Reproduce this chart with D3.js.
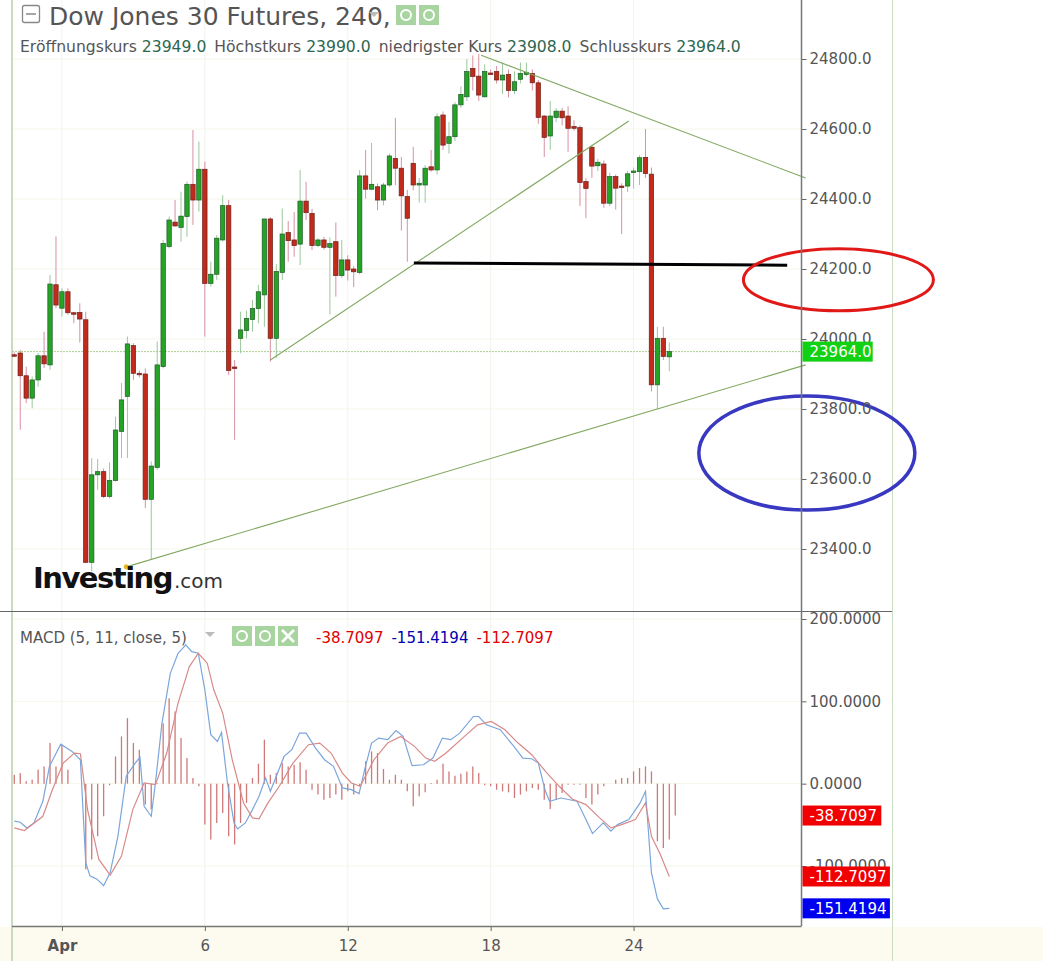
<!DOCTYPE html>
<html><head><meta charset="utf-8">
<script src="https://cdn.jsdelivr.net/npm/d3@7"></script>
<style>body{margin:0;background:#fff}svg{display:block}text{font-family:"DejaVu Sans",sans-serif}</style>
</head><body>
<svg id="c" width="1043" height="961"></svg>
<script>
// OHLC per 4h bar
const opens=[23955,23960,23895,23831,23883,23952,23926,24155,24088,24135,24075,24076,24055,23362,23612,23621,23550,23596,23736,23836,23981,23902,23900,23542,23633,23921,24264,24334,24319,24350,24442,24397,24485,24159,24185,24283,24381,23920,24002,24024,24056,24087,24126,24343,24002,24190,24304,24283,24271,24394,24359,24267,24283,24262,24278,24181,24226,24200,24190,24466,24428,24435,24397,24440,24516,24488,24407,24502,24440,24440,24492,24483,24640,24559,24578,24669,24692,24773,24751,24692,24760,24764,24740,24756,24710,24742,24756,24759,24732,24637,24580,24633,24651,24637,24607,24604,24450,24548,24495,24500,24388,24464,24437,24437,24478,24478,24519,24471,23869,24002,23949];
const highs=[23962,23969,23921,23893,23960,24021,24183,24293,24145,24145,24078,24102,24078,23660,23657,23630,23647,23778,23874,24007,23988,23910,23916,23650,23993,24283,24350,24397,24421,24450,24597,24564,24507,24221,24297,24411,24397,23940,24078,24081,24112,24155,24343,24348,24214,24373,24337,24363,24483,24449,24372,24288,24292,24290,24333,24283,24239,24208,24483,24540,24560,24444,24446,24530,24632,24520,24426,24549,24460,24497,24540,24645,24650,24620,24677,24722,24800,24810,24815,24785,24770,24780,24790,24770,24765,24790,24790,24770,24740,24640,24680,24660,24660,24665,24625,24610,24460,24555,24515,24510,24475,24470,24445,24480,24490,24525,24600,24490,24035,24035,23990];
const lows=[23948,23741,23817,23802,23864,23917,23912,24088,24064,24069,24045,23990,23360,23336,23569,23545,23545,23593,23660,23660,23883,23890,23517,23369,23626,23916,24259,24321,24278,24292,24326,24364,24007,24150,24169,24278,23897,23712,23959,24002,24021,24045,24035,23935,23945,24168,24221,24235,24211,24340,24254,24262,24255,24070,24121,24174,24167,24148,24185,24401,24425,24368,24382,24435,24440,24310,24221,24425,24390,24390,24478,24470,24540,24530,24565,24660,24680,24710,24680,24690,24755,24730,24700,24690,24700,24730,24750,24710,24615,24520,24540,24620,24610,24535,24595,24380,24345,24460,24480,24375,24380,24370,24300,24420,24430,24440,24460,23850,23800,23940,23908];
const closes=[23954,23895,23831,23883,23952,23929,24157,24097,24135,24075,24074,24057,23362,23612,23621,23550,23596,23740,23826,23986,23902,23900,23542,23637,23926,24273,24340,24323,24351,24442,24397,24485,24159,24185,24288,24381,23910,23918,24026,24059,24087,24135,24343,24002,24193,24300,24281,24267,24394,24361,24267,24283,24262,24273,24181,24226,24197,24192,24466,24428,24442,24397,24440,24523,24488,24409,24345,24440,24445,24488,24483,24635,24554,24578,24669,24699,24764,24750,24697,24764,24758,24740,24754,24710,24735,24759,24762,24732,24633,24576,24637,24651,24632,24602,24602,24447,24430,24494,24505,24388,24464,24431,24435,24472,24480,24518,24473,23869,24002,23950,23964];
// MACD histogram per bar
const histogram=[10.9,13,2.8,4.9,17,21,49.3,21,47.3,17,0,0,-104,-92,-64,-39.6,-2,33.1,57.4,79.6,49.3,41.2,-25.4,-31.5,0.8,73.5,103.8,87.7,55.4,31.1,6.9,-3,-49.7,-67.9,-47.7,-35.5,-64,-73.9,-47.7,-23.4,6.9,24.2,53.4,10.9,13,25.1,21,23,25.9,17,-7.3,-13.3,-19.4,-17.4,-13.3,-19.4,-9.3,-13.3,-3.2,27.1,39.2,37.2,17.8,4.9,10.9,4.9,-9.3,-27.5,-15.3,-10.5,0.8,4.9,24.2,14.9,9.7,12.1,14.9,21,13,-2,-3.2,-7.3,-9.3,-10.5,-17.4,-13.3,-9.3,-5.2,-7.3,-19.4,-30.7,-19.4,-11.3,-1.2,-1.2,-1.2,-17.4,-25.4,-13.3,-3.2,0,4.9,6.9,6.9,14.9,19,21,14.9,-70,-78,-67.9,-38.7];
// MACD line [bar, value]
const macdLine=[[1,-45.6],[2,-46.8],[3.1,-53.7],[4.3,-47.7],[5.8,-21.4],[6.9,21],[8.8,48],[10.7,39.2],[12.1,29.1],[13,-96],[13.7,-112],[14.9,-116],[16,-124],[17.1,-108],[18.4,-64],[19.8,9],[21.3,25],[22.1,32],[22.8,-27.5],[24,-39.6],[24.7,0.8],[25.8,73.5],[27.2,134],[28.5,158.4],[29.8,168.5],[30.8,160.4],[31.9,158.4],[33,114],[34,59.4],[35.1,51.3],[35.8,62.2],[36.8,0.8],[37.9,-47.7],[38.5,-55],[39.8,-47.7],[41,-31.5],[42.1,-15.3],[43.2,6.9],[44,-9.3],[45.1,10.9],[46.3,33.1],[47.6,41.2],[48.9,61.4],[50,61.4],[51.6,43.2],[53.1,29.1],[54.6,21],[56.1,-5.2],[57.6,-7.3],[58.9,-12.1],[59.9,19],[61,49.3],[62.2,55.4],[63.7,53.4],[65.1,64.6],[66.3,57.4],[67.8,21.8],[69.7,23],[71.3,31.1],[72.9,55.4],[74.3,53.4],[75.8,61.4],[78.1,81.6],[79,81.6],[80.3,71.5],[82.6,65.5],[84.9,45.3],[86.4,31.1],[87.9,30.3],[89,25],[90.2,-9.3],[90.9,-21.4],[92.8,-17.4],[95.5,-21.4],[97,-43.6],[98.1,-60.6],[99.9,-47.7],[101.2,-57.8],[102.3,-49.7],[104.2,-43.6],[106.1,-23.4],[107,-9.3],[108,-108],[109,-140],[110,-152],[111,-151.4]];
const signalLine=[[1,-53.7],[2.7,-57],[5.8,-39.6],[7.3,-9.3],[9.2,25],[11.1,37.2],[12.1,36.4],[13.3,-31.5],[15.2,-92],[17.1,-111],[19,-88],[20.9,-31.5],[22.8,0.8],[24.7,-1.2],[26.6,37.2],[28.5,97.8],[30.4,142.2],[31.9,158.4],[33.4,146.3],[34.5,114],[36,85.7],[37.6,29.1],[39.5,-23.4],[41,-41.6],[42.1,-42.8],[43.6,-23.4],[45.5,-3.2],[47.8,25],[50.4,47.3],[52.3,49.3],[54.2,37.2],[56.1,12.9],[57.6,0.8],[59.1,-3.2],[61.4,29.1],[63.7,49.3],[65.9,57.4],[68.2,45.3],[70.1,31.1],[71.6,27.1],[73.5,37.2],[76.6,57.4],[78.8,71.5],[81.1,75.6],[83.4,65.5],[85.6,49.3],[87.9,35.2],[90.2,15],[92.5,-3.2],[94.7,-18.6],[97,-25.4],[99.3,-41.6],[101.2,-53.7],[103,-49.7],[105.3,-43.6],[107,-23.4],[108,-64],[109.5,-86],[111,-112.7]];
const priceTicks=[23400,23600,23800,24000,24200,24400,24600,24800];
const macdTicks=[-100,0,100,200];
const dateTicks=[9,33,57,81,105];
const dateLabels=["Apr","6","12","18","24"];
// drawn annotations in data space [bar, price]
const trendLines=[[[44,23940],[104.2,24623]],[[79.4,24811],[133.9,24460]],[[19.8,23349],[133.9,23926]]];
const supportLine=[[68.1,24217],[130.8,24211]];
const ellipses=[{c:[139.4,24169],color:"#e01818"},{c:[134.1,23674],color:"#3838c0"}];
const lastPrice=23964, macdVals=[-38.7097,-151.4194,-112.7097];

const svg=d3.select("#c");
const x=d3.scaleLinear().domain([1,111]).range([14.3,669.3]);
const y=d3.scaleLinear().domain([23400,24800]).range([549,59]);
const ym=d3.scaleLinear().domain([-100,200]).range([866,619]);
const AX=801.5;
const FA="'Liberation Sans',Arial,sans-serif";
svg.append("rect").attr("x",0).attr("y",927).attr("width",1043).attr("height",34).attr("fill","#fdfaf0");
const g=svg.append("g");
dateTicks.forEach(t=>g.append("line").attr("x1",x(t)).attr("x2",x(t)).attr("y1",0).attr("y2",926).attr("stroke","#f3f3ea"));
priceTicks.forEach(t=>g.append("line").attr("x1",12).attr("x2",AX).attr("y1",y(t)).attr("y2",y(t)).attr("stroke","#f6f6ea"));
macdTicks.forEach(t=>g.append("line").attr("x1",12).attr("x2",AX).attr("y1",ym(t)).attr("y2",ym(t)).attr("stroke","#f6f6ea"));
svg.append("line").attr("x1",12).attr("x2",12).attr("y1",0).attr("y2",961).attr("stroke","#c8dcc0").attr("stroke-width",2);
svg.append("line").attr("x1",892.5).attr("x2",892.5).attr("y1",0).attr("y2",961).attr("stroke","#c8dcc0");
svg.append("line").attr("x1",0).attr("x2",892).attr("y1",611.5).attr("y2",611.5).attr("stroke","#666");
svg.append("line").attr("x1",12).attr("x2",AX).attr("y1",y(lastPrice)).attr("y2",y(lastPrice)).attr("stroke","#a8d090").attr("stroke-dasharray","2,1");
const bars=d3.range(opens.length).map(i=>({i:i+1,o:opens[i],h:highs[i],l:lows[i],c:closes[i]}));
const cg=svg.append("g");
bars.forEach(b=>{
  const up=b.c>=b.o;
  cg.append("line").attr("x1",x(b.i)).attr("x2",x(b.i)).attr("y1",y(b.h)).attr("y2",y(b.l)).attr("stroke",up?"#9cc89c":"#d890a0").attr("stroke-width",1);
  const top=y(Math.max(b.o,b.c)),bot=y(Math.min(b.o,b.c));
  cg.append("rect").attr("x",x(b.i)-2.2).attr("y",top).attr("width",4.4).attr("height",Math.max(1.5,bot-top))
    .attr("fill",up?"#25a325":"#c22a1c").attr("stroke",up?"#1f5a2a":"#6a2018").attr("stroke-width",0.7);
});
const line=d3.line().x(d=>x(d[0])).y(d=>y(d[1]));
trendLines.forEach(t=>svg.append("path").attr("d",line(t)).attr("stroke","#80a860").attr("stroke-width",1.1).attr("fill","none"));
svg.append("path").attr("d",line(supportLine)).attr("stroke","#000").attr("stroke-width",3).attr("fill","none");
svg.append("circle").attr("cx",x(19.8)).attr("cy",y(23349)).attr("r",2.5).attr("fill","#e8b820");
svg.append("ellipse").attr("cx",x(ellipses[0].c[0])).attr("cy",y(ellipses[0].c[1])).attr("rx",95).attr("ry",31).attr("fill","none").attr("stroke",ellipses[0].color).attr("stroke-width",3);
svg.append("ellipse").attr("cx",x(ellipses[1].c[0])).attr("cy",y(ellipses[1].c[1])).attr("rx",108).attr("ry",57).attr("fill","none").attr("stroke",ellipses[1].color).attr("stroke-width",3.5);
const axisP=svg.append("g").attr("transform",`translate(${AX},0)`).call(d3.axisRight(y).tickValues(priceTicks).tickSize(5).tickFormat(d=>d.toFixed(1)));
const axisM=svg.append("g").attr("transform",`translate(${AX},0)`).call(d3.axisRight(ym).tickValues(macdTicks).tickSize(5).tickFormat(d=>d.toFixed(4)));
[axisP,axisM].forEach(a=>{a.select(".domain").remove();a.selectAll("line").attr("stroke","#666");a.selectAll("text").attr("font-size",15).attr("fill","#555").attr("font-family",FA).attr("x",8);});
svg.append("line").attr("x1",AX).attr("x2",AX).attr("y1",0).attr("y2",926).attr("stroke","#777").attr("stroke-width",1.5);
const axisX=svg.append("g").attr("transform","translate(0,926)").call(d3.axisBottom(x).tickValues(dateTicks).tickSize(5).tickFormat((d,i)=>dateLabels[i]));
axisX.select(".domain").remove();
axisX.selectAll("line").attr("stroke","#666");
axisX.selectAll("text").attr("font-size",15).attr("fill","#555").attr("font-family",FA).attr("dy","1.1em").attr("font-weight",(d,i)=>i==0?"bold":"normal");
svg.append("line").attr("x1",12).attr("x2",AX).attr("y1",926.5).attr("y2",926.5).attr("stroke","#777").attr("stroke-width",1.5);
function tag(v,scale,fill,txt){svg.append("rect").attr("x",AX+1).attr("y",scale(v)-10).attr("width",txt.length*8.6+10).attr("height",20).attr("fill",fill);
 svg.append("text").attr("x",AX+8).attr("y",scale(v)+5.5).attr("font-size",15).attr("fill","#fff").attr("font-family",FA).text(txt);}
tag(lastPrice,y,"#12d012",lastPrice.toFixed(1));
const mline=d3.line().x(d=>x(d[0])).y(d=>ym(d[1]));
histogram.forEach((h,i)=>svg.append("line").attr("x1",x(i+1)).attr("x2",x(i+1)).attr("y1",ym(0)).attr("y2",ym(h)).attr("stroke","#d07878").attr("stroke-width",1.3));
svg.append("path").attr("d",mline(macdLine)).attr("fill","none").attr("stroke","#7aa6dc").attr("stroke-width",1.2);
svg.append("path").attr("d",mline(signalLine)).attr("fill","none").attr("stroke","#d88a8a").attr("stroke-width",1.2);
tag(macdVals[0],ym,"#f00000",macdVals[0].toFixed(4));
tag(macdVals[2],ym,"#f00000",macdVals[2].toFixed(4));
tag(macdVals[1],ym,"#0000f0",macdVals[1].toFixed(4));
// header
svg.append("rect").attr("x",22.5).attr("y",5.5).attr("width",17).attr("height",17).attr("rx",2).attr("fill","none").attr("stroke","#888").attr("stroke-width",1.3);
svg.append("line").attr("x1",26).attr("x2",36).attr("y1",14).attr("y2",14).attr("stroke","#888").attr("stroke-width",1.5);
svg.append("text").attr("x",49).attr("y",25).attr("font-size",25).attr("fill","#555").text("Dow Jones 30 Futures, 240,");
svg.append("path").attr("d","M369,12 l10,0 l-5,5 z").attr("fill","#bbb");
function icons(x0,yy,n,cross){for(let k=0;k<n;k++){svg.append("rect").attr("x",x0+k*23).attr("y",yy).attr("width",20).attr("height",20).attr("fill","#a8d4a0");
 if(cross&&k==n-1){svg.append("path").attr("d",`M${x0+k*23+4},${yy+4} l12,12 M${x0+k*23+16},${yy+4} l-12,12`).attr("stroke","#fff").attr("stroke-width",2.5);}
 else svg.append("circle").attr("cx",x0+k*23+10).attr("cy",yy+10).attr("r",5).attr("fill","none").attr("stroke","#fff").attr("stroke-width",2);}}
icons(396,5,2,false);
const ohlc=svg.append("text").attr("x",20).attr("y",52).attr("font-size",15.6).attr("fill","#555");
[["Eröffnungskurs ",opens[110]],["Höchstkurs ",highs[110]],["niedrigster Kurs ",lows[110]],["Schlusskurs ",closes[110]]].forEach(([l,v],k)=>{
 ohlc.append("tspan").attr("dx",k?8:0).text(l);ohlc.append("tspan").attr("fill","#2d6650").text(v.toFixed(1));});
// MACD header
svg.append("text").attr("x",20).attr("y",643).attr("font-size",15).attr("fill","#555").text("MACD (5, 11, close, 5)");
svg.append("path").attr("d","M205,632 l10,0 l-5,5 z").attr("fill","#bbb");
icons(232,626,3,true);
const mv=svg.append("text").attr("x",316).attr("y",643).attr("font-size",15);
[[macdVals[0],"#e00000"],[macdVals[1],"#0000b0"],[macdVals[2],"#e00000"]].forEach(([v,c],k)=>mv.append("tspan").attr("dx",k?8:0).attr("fill",c).text(v.toFixed(4)));
// logo
const logo=svg.append("text").attr("x",33).attr("y",588).attr("font-family",FA);
logo.append("tspan").attr("font-size",29).attr("font-weight","bold").attr("fill","#111").attr("letter-spacing",-1.5).text("Investing");
logo.append("tspan").attr("font-size",20).attr("fill","#333").attr("dx",2).text(".com");
</script></body></html>
